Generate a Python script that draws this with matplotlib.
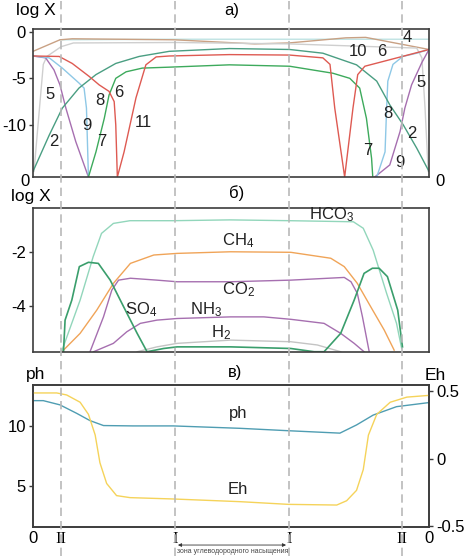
import matplotlib
matplotlib.use('Agg')
import matplotlib.pyplot as plt
from matplotlib import transforms
from matplotlib.lines import Line2D

plt.rcParams['font.family'] = ['Liberation Sans', 'DejaVu Sans']
plt.rcParams['axes.unicode_minus'] = False
plt.rcParams['mathtext.default'] = 'regular'

# zone boundaries (II, I, I, II) on the common 0..100 distance scale
zones = [7.0, 35.9, 64.6, 93.2]

# ---- panel a: log X of species 2..11 ----
c4_x = [0, 6.8, 9.9, 35.7, 56, 64.6, 79, 84, 100]
c4_y = [-2.1, -0.86, -0.75, -0.86, -1.3, -1.2, -0.65, -0.6, -1.9]
c10_x = [6.8, 36, 64.6, 100]
c10_y = [-0.86, -0.8, -0.8, -0.8]
c5_x = [0.25, 2.6, 3.5, 7.1, 10.2, 36, 64.6, 96.9, 98.2, 99.0, 99.8]
c5_y = [-15, -3.5, -2.65, -1.6, -1.2, -1.15, -1.3, -1.75, -2.8, -8.2, -15]
c9_left_x = [0, 3.2, 5.3, 6.8, 8.3, 10.8, 14.0]
c9_left_y = [-2.6, -2.8, -4.1, -5.7, -8.2, -11.8, -15.6]
c9_right_x = [86.3, 90.1, 92.7, 93.9, 95.6, 98.2, 100]
c9_right_y = [-15.6, -14.3, -10.7, -8.2, -5.7, -3.3, -1.9]
c8_left_x = [0, 4.1, 7.4, 11.6, 12.9, 13.5, 14.0]
c8_left_y = [-2.6, -2.8, -3.9, -5.5, -6.05, -8.2, -15.6]
c8_right_x = [86.8, 88.9, 89.3, 89.6, 90.9, 93.4, 96.9, 100]
c8_right_y = [-15.6, -12.9, -8.2, -5.3, -3.5, -2.65, -2.3, -1.9]
c11_x = [0, 6.6, 9.9, 14.2, 16.7, 19.2, 20.5, 20.9, 21.3, 23.0, 26.0, 28.5,
         31.1, 34.4, 49.6, 64.8, 73.2, 75.0, 76.2, 78.7, 80.8, 82.0, 83.8, 90.1, 100]
c11_y = [-2.6, -2.65, -3.4, -4.8, -5.7, -6.4, -7.5, -10, -15.6, -12.9, -7.1, -3.55,
         -2.7, -2.6, -2.45, -2.5, -2.8, -3.5, -8.2, -15.6, -8.2, -4.6, -3.7, -3.0, -1.9]
c2_x = [0, 4.1, 7.4, 11.6, 15.9, 20.9, 26.8, 34.4, 49.6, 64.8, 73.2, 81.7,
        86.8, 90.1, 93.5, 96.9, 100]
c2_y = [-15.0, -11.1, -8.2, -6.05, -4.6, -3.4, -2.65, -2.1, -1.8, -1.9, -2.3,
        -3.55, -5.3, -7.85, -10, -12.5, -15]
c7_x = [14.0, 15.9, 18.0, 19.2, 20.9, 23.5, 27.6, 34.4, 49.6, 64.8, 75.7, 80.0,
        82.5, 84.2, 85.5, 85.8]
c7_y = [-15.6, -12.9, -9.3, -6.8, -5.0, -4.3, -3.9, -3.8, -3.55, -3.7, -4.45,
        -5.0, -6.05, -9.3, -13.6, -15.6]
labels_a = ['5', '2', '9', '8', '7', '6', '11', '10', '6', '4', '5', '8', '2', '7', '9']
labels_a_x = [4.3, 5.3, 13.6, 16.8, 17.4, 21.7, 27.8, 82.1, 88.1, 94.4, 98.0, 89.6, 95.7, 84.6, 92.7]
labels_a_y = [-6.7, -11.8, -10.1, -7.4, -11.8, -6.5, -9.7, -2.15, -2.15, -0.65, -5.5, -8.8, -10.9, -12.8, -14.0]

# ---- panel b: gases and ions ----
hco3_x = [7.2, 11.9, 15.2, 17.3, 20.3, 24.5, 35.4, 49.7, 64.9, 80.9, 83.4, 85.9, 89.3, 91.8, 93.1]
hco3_y = [-5.69, -3.78, -2.17, -1.31, -0.94, -0.84, -0.84, -0.81, -0.84, -0.88, -1.12,
          -1.93, -3.53, -4.64, -5.57]
so4_x = [7.7, 8.1, 9.8, 11.7, 14.0, 16.5, 19.5, 22.9, 26.3, 28.8, 33.0, 36.4, 49.9, 65.1,
         71.0, 73.5, 77.7, 81.1, 83.6, 85.7, 87.4, 89.5, 92.1, 93.3]
so4_y = [-5.69, -4.52, -3.78, -2.54, -2.38, -2.42, -3.04, -4.03, -5.01, -5.69, -5.57, -5.51,
         -5.51, -5.57, -5.69, -5.69, -5.01, -3.78, -2.79, -2.6, -2.6, -2.91, -4.15, -5.51]
ch4_x = [7.3, 11.9, 16.1, 20.3, 24.6, 30.5, 36.4, 49.9, 65.1, 75.2, 78.6, 81.9, 85.3, 88.7, 91.2]
ch4_y = [-5.69, -5.01, -4.15, -3.16, -2.42, -2.11, -2.05, -1.99, -2.01, -2.23, -2.54,
         -3.16, -4.03, -4.89, -5.63]
co2_x = [14.4, 17.8, 19.9, 21.6, 24.6, 31.3, 36.4, 49.9, 65.1, 78.6, 80.3, 81.9, 83.2, 84.9]
co2_y = [-5.69, -4.4, -3.41, -3.04, -2.97, -3.04, -3.1, -3.1, -3.04, -2.94, -3.1, -3.53, -4.4, -5.69]
nh3_x = [15.3, 20.3, 23.7, 27.1, 31.3, 36.4, 49.9, 58.3, 65.1, 73.5, 77.7, 81.1, 83.6]
nh3_y = [-5.69, -5.38, -4.95, -4.64, -4.52, -4.46, -4.4, -4.4, -4.49, -4.64, -5.01, -5.38, -5.69]
h2_x = [26.3, 31.3, 36.4, 49.9, 65.1, 71.8, 77.7]
h2_y = [-5.69, -5.51, -5.38, -5.26, -5.32, -5.44, -5.69]
labels_b = ['HCO$_3$', 'CH$_4$', 'CO$_2$', 'SO$_4$', 'NH$_3$', 'H$_2$']
labels_b_x = [75.3, 51.8, 51.8, 27.3, 43.7, 47.5]
labels_b_y = [-0.63, -1.59, -3.41, -4.15, -4.15, -5.0]

# ---- panel c: ph and Eh ----
ph_x = [0, 2.6, 6.8, 11.0, 14.4, 17.8, 25.3, 35.4, 52.3, 64.5, 77.5, 81.7, 85.9, 91.8, 100]
ph_y = [12.1, 12.1, 11.75, 11.05, 10.44, 10.03, 10.0, 10.0, 9.8, 9.6, 9.4, 10.08, 10.9, 11.6, 11.94]
eh_x = [0, 6.0, 8.5, 11.9, 14.0, 15.7, 16.9, 18.6, 21.1, 24.5, 35.4, 52.3, 64.5, 76.7,
        79.2, 81.7, 83.4, 84.7, 86.8, 90.2, 94.4, 100]
eh_y = [0.487, 0.487, 0.472, 0.418, 0.328, 0.175, -0.031, -0.185, -0.275, -0.29, -0.30,
        -0.32, -0.34, -0.345, -0.313, -0.236, -0.082, 0.174, 0.328, 0.418, 0.456, 0.469]
zone_ticks = [0, 7.0, 35.9, 64.6, 93.2, 100]
zone_labels = ['0', 'II', 'I', 'I', 'II', '0']

W, H = 467, 556
EDGE = '#3c3c3c'


def box(left, top, right, bottom):
    return [left / W, 1 - bottom / H, (right - left) / W, (bottom - top) / H]


def fig_text(fig, px, py, s, **kw):
    fig.text(px / W, 1 - py / H, s, ha='center', va='center', **kw)


def style(ax, ylim):
    ax.set_xlim(0, 100)
    ax.set_ylim(*ylim)
    for sp in ax.spines.values():
        sp.set_color(EDGE)
        sp.set_linewidth(1.2)
    ax.tick_params(axis='y', direction='out', length=3, width=1, color=EDGE,
                   labelsize=12, pad=2)
    ax.tick_params(axis='x', bottom=False, labelbottom=False)


def main():
    fig = plt.figure(figsize=(W / 100, H / 100), dpi=100)
    ax_a = fig.add_axes(box(33, 29, 429, 177))
    ax_b = fig.add_axes(box(33, 208, 429, 352))
    ax_c = fig.add_axes(box(33, 385, 429, 527))

    lw = 1.0
    # panel a
    style(ax_a, (-15.6, 0.3))
    ax_a.set_yticks([0, -5, -10])
    ax_a.plot(c10_x, c10_y, color='#bfe3e3', lw=lw)
    ax_a.plot(c4_x, c4_y, color='#c9a184', lw=lw)
    ax_a.plot(c5_x, c5_y, color='#cfcfcf', lw=lw)
    ax_a.plot(c9_left_x, c9_left_y, color='#a66fb0', lw=lw)
    ax_a.plot(c9_right_x, c9_right_y, color='#a66fb0', lw=lw)
    ax_a.plot(c8_left_x, c8_left_y, color='#8ec8e6', lw=lw)
    ax_a.plot(c8_right_x, c8_right_y, color='#8ec8e6', lw=lw)
    ax_a.plot(c2_x, c2_y, color='#4a9e82', lw=lw)
    ax_a.plot(c7_x, c7_y, color='#3daa5c', lw=lw)
    ax_a.plot(c11_x, c11_y, color='#de5a52', lw=lw)
    for s, x, y in zip(labels_a, labels_a_x, labels_a_y):
        ax_a.text(x, y, s, fontsize=12, ha='center', va='center', color='#222222')

    # panel b
    style(ax_b, (-5.70, -0.37))
    ax_b.set_yticks([-2, -4])
    ax_b.plot(h2_x, h2_y, color='#c4c4c4', lw=lw)
    ax_b.plot(nh3_x, nh3_y, color='#a66fb0', lw=lw)
    ax_b.plot(co2_x, co2_y, color='#a66fb0', lw=lw)
    ax_b.plot(ch4_x, ch4_y, color='#f0a458', lw=lw)
    ax_b.plot(hco3_x, hco3_y, color='#92d6bb', lw=lw)
    ax_b.plot(so4_x, so4_y, color='#3a9e6c', lw=1.2)
    for s, x, y in zip(labels_b, labels_b_x, labels_b_y):
        ax_b.text(x, y, s, fontsize=12, ha='center', va='center', color='#222222')

    # panel c
    style(ax_c, (1.6, 13.4))
    ax_c.set_yticks([5, 10])
    ax_c.plot(ph_x, ph_y, color='#4f9db2', lw=lw)
    ax_c.text(51.8, 11.0, 'ph', fontsize=12, ha='center', va='center', color='#222222')
    ax_c.text(51.8, 4.7, 'Eh', fontsize=12, ha='center', va='center', color='#222222')
    ax_e = ax_c.twinx()
    ax_e.set_ylim(-0.508, 0.546)
    ax_e.plot(eh_x, eh_y, color='#f5d35a', lw=lw)
    ax_e.set_yticks([-0.5, 0, 0.5])
    ax_e.set_yticklabels(['-0.5', '0', '0.5'])
    ax_e.tick_params(axis='y', direction='out', length=3, width=1, color=EDGE,
                     labelsize=12, pad=2)
    for sp in ax_e.spines.values():
        sp.set_color(EDGE)
        sp.set_linewidth(1.2)
    ax_c.tick_params(axis='x', bottom=True, labelbottom=True, length=0, pad=3, labelsize=12)
    ax_c.set_xticks(zone_ticks)
    ax_c.set_xticklabels(zone_labels)
    for t in ax_c.get_xticklabels()[1:-1]:
        t.set_fontfamily(['Liberation Serif', 'DejaVu Serif'])

    # arrow for the hydrocarbon saturation zone
    ax_c.annotate('', xy=(63.9, -0.127), xytext=(36.6, -0.127),
                  xycoords=('data', 'axes fraction'),
                  arrowprops=dict(arrowstyle='<|-|>', lw=0.6, color='#333333',
                                  mutation_scale=5, shrinkA=0, shrinkB=0),
                  annotation_clip=False)
    ax_c.text(50.3, -0.176, 'зона углеводородного насыщения', fontsize=5,
              ha='center', va='center', color='#444444',
              transform=transforms.blended_transform_factory(ax_c.transData, ax_c.transAxes))

    # dashed zone boundaries across the whole figure
    trans = transforms.blended_transform_factory(ax_c.transData, fig.transFigure)
    for z in zones:
        fig.add_artist(Line2D([z, z], [0, 1], transform=trans, color='#b9b9b9',
                              lw=1.2, dashes=(5, 3), zorder=5))

    # headings and axis names
    fig_text(fig, 232, 11, 'а)', fontsize=12)
    fig_text(fig, 237, 193, 'б)', fontsize=12)
    fig_text(fig, 235, 373, 'в)', fontsize=12)
    fig_text(fig, 36, 11, 'log X', fontsize=12.5)
    fig_text(fig, 31, 197, 'log X', fontsize=12.5)
    fig_text(fig, 36, 374, 'ph', fontsize=12.5)
    fig_text(fig, 435, 375, 'Eh', fontsize=12.5)
    fig_text(fig, 25, 181, '0', fontsize=12)
    fig_text(fig, 440, 181, '0', fontsize=12)

    fig.savefig('out.png', dpi=100)


if __name__ == '__main__':
    main()
